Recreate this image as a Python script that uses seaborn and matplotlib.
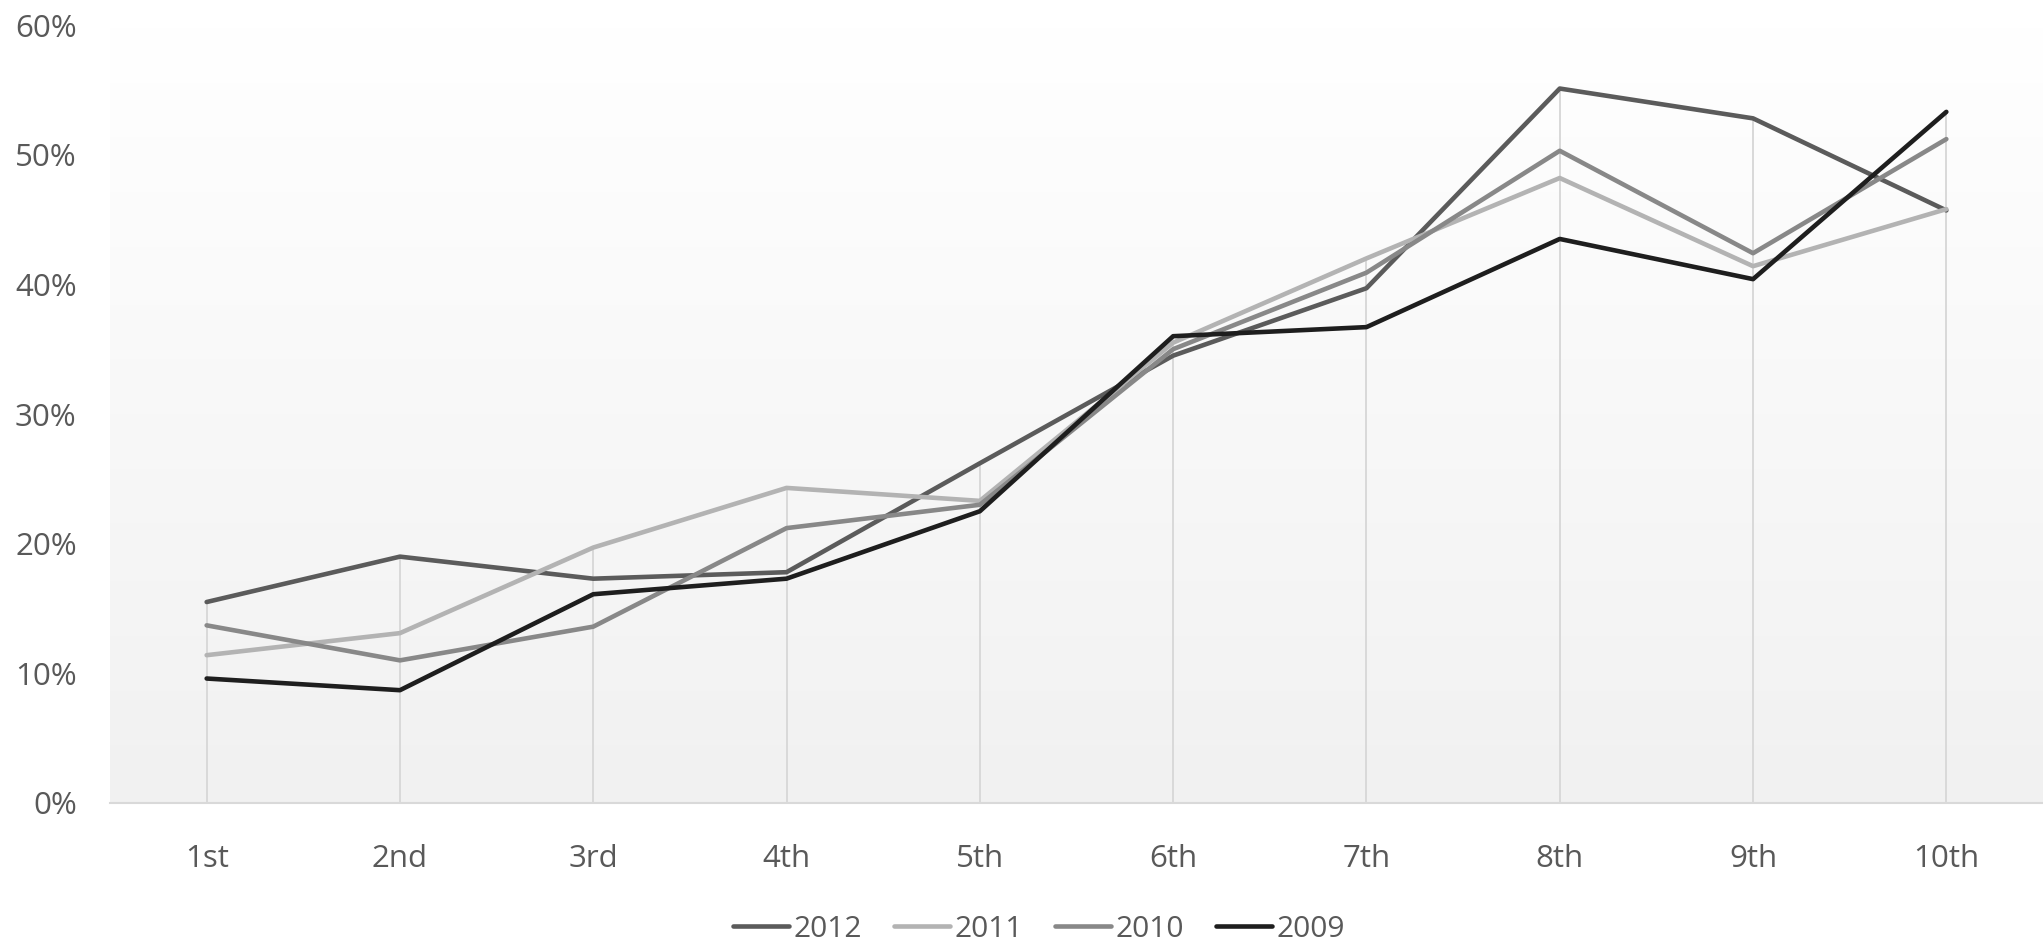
import numpy as np
import pandas as pd
import matplotlib
matplotlib.use("Agg")
import matplotlib.pyplot as plt
import seaborn as sns
from matplotlib.ticker import PercentFormatter, MultipleLocator
from matplotlib.colors import LinearSegmentedColormap

categories = ["1st", "2nd", "3rd", "4th", "5th", "6th", "7th", "8th", "9th", "10th"]
years = ["2012", "2011", "2010", "2009"]
v2012 = [15.5, 19.0, 17.3, 17.8, 26.2, 34.5, 39.7, 55.1, 52.8, 45.7]
v2011 = [11.4, 13.1, 19.7, 24.3, 23.3, 35.5, 42.0, 48.2, 41.4, 45.8]
v2010 = [13.7, 11.0, 13.6, 21.2, 23.0, 35.0, 40.9, 50.3, 42.4, 51.2]
v2009 = [9.6, 8.7, 16.1, 17.3, 22.5, 36.0, 36.7, 43.5, 40.4, 53.3]

series = {"2012": v2012, "2011": v2011, "2010": v2010, "2009": v2009}
colors = {"2012": "#5b5b5b", "2011": "#b3b3b3", "2010": "#888888", "2009": "#1e1e1e"}

df = pd.DataFrame([
    {"cat": c, "year": y, "value": v}
    for y in years for c, v in zip(categories, series[y])
])

sns.set_theme(style="white")
plt.rcParams['font.family'] = ['Open Sans', 'DejaVu Sans']
txt = "#595959"

fig = plt.figure(figsize=(20.43, 9.46), dpi=100)
ax = fig.add_axes([110 / 2043, 1 - 803 / 946, 1 - 110 / 2043, (803 - 25) / 946])

# gradient background
cmap = LinearSegmentedColormap.from_list("bg", ["#f1f1f1", "#ffffff"])
grad = np.linspace(0, 1, 256).reshape(-1, 1)
ax.imshow(grad, extent=(-0.5, 9.5, 0, 60), origin="lower", aspect="auto",
          cmap=cmap, zorder=0)

# drop lines
maxvals = np.max(np.array([v2012, v2011, v2010, v2009]), axis=0)
ax.vlines(np.arange(len(categories)), 0, maxvals, color="#d9d9d9", lw=1.4, zorder=1)

sns.lineplot(data=df, x="cat", y="value", hue="year", hue_order=years,
             palette=colors, linewidth=3.3, sort=False, ax=ax, zorder=3)

ax.set_xlim(-0.5, 9.5)
ax.set_ylim(0, 60)
ax.yaxis.set_major_locator(MultipleLocator(10))
ax.yaxis.set_major_formatter(PercentFormatter(decimals=0))
ax.set_xlabel("")
ax.set_ylabel("")
for s in ["top", "left", "right"]:
    ax.spines[s].set_visible(False)
ax.spines["bottom"].set_color("#d9d9d9")
ax.spines["bottom"].set_linewidth(1.5)
ax.spines["bottom"].set_zorder(2)
ax.tick_params(axis="y", length=0, pad=24, labelsize=22.5, labelcolor=txt)
ax.tick_params(axis="x", length=0, pad=29.5, labelsize=22.5, labelcolor=txt)
ax.grid(False)

handles, labels = ax.get_legend_handles_labels()
ax.get_legend().remove()
leg = fig.legend(handles, labels, loc="center", bbox_to_anchor=(1039 / 2043, 1 - 929 / 946),
                 ncol=4, frameon=False, fontsize=21.5, handlelength=1.9,
                 handletextpad=0.15, columnspacing=1.05)
for t in leg.get_texts():
    t.set_color(txt)

fig.savefig("out.png", dpi=100)
